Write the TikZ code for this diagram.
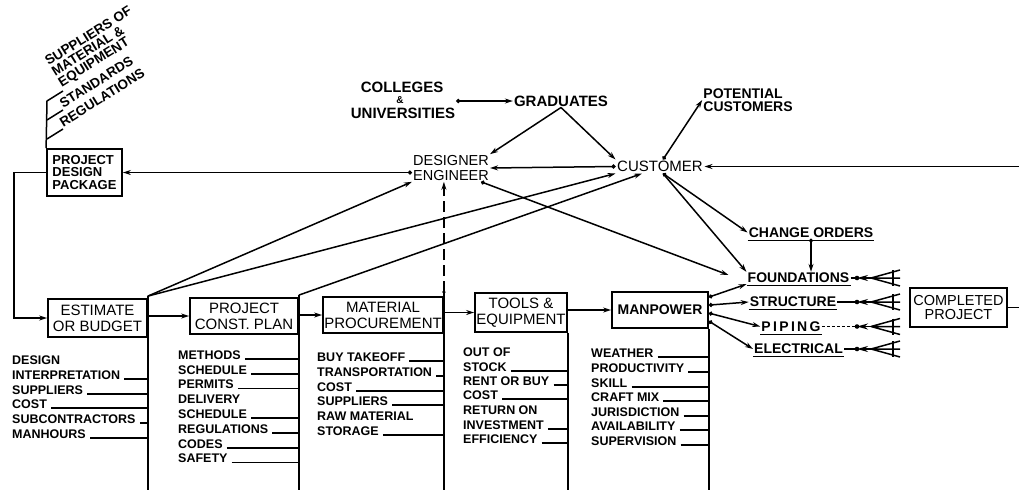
\documentclass[tikz,border=0pt]{standalone}
\usepackage{fontspec}
\setmainfont{Liberation Sans}
\usetikzlibrary{arrows.meta}
\newcommand\fntBoxes{\fontsize{15}{16}\selectfont}
\newcommand\fntLists{\fontsize{12.5}{14}\selectfont\bfseries}
\newcommand\fntHeads{\fontsize{15}{15}\selectfont\bfseries}
\newcommand\fntTags{\fontsize{14}{14}\selectfont\bfseries}
\begin{document}
\begin{tikzpicture}[x=1pt,y=-1pt,
  ln/.style={line width=1.5pt},
  arr/.style={ln,-{Stealth[length=8pt,width=5pt]}},
  darr/.style={ln,{Circle[length=4pt]}-{Stealth[length=8pt,width=5pt]}},
  blk/.style={draw,line width=1.8pt,inner sep=0pt,align=center,font=\fntBoxes},
  lst/.style={inner sep=0pt,anchor=base west,font=\fntLists},
  hd/.style={inner sep=1pt,font=\fntHeads},
  tag/.style={inner sep=1pt,font=\fntTags},
  rot/.style={inner sep=1pt,anchor=south west,rotate=32,align=left,
              font=\fontsize{13.5}{12.5}\selectfont\bfseries}]
\useasboundingbox (0,0) rectangle (1019,490);
\coordinate (bot) at (0,490);

% ---------- main chain of boxes ----------
\node[blk,minimum width=75pt,minimum height=47pt,align=left,
      font=\fontsize{13}{12.5}\selectfont\bfseries] (pkg) at (84.5,172.5) {PROJECT\\DESIGN\\PACKAGE};
\node[blk,minimum width=99pt,minimum height=38pt] (est) at (97.5,318) {ESTIMATE\\OR BUDGET};
\node[blk,minimum width=108pt,minimum height=36pt] (pcp) at (244,316) {PROJECT\\CONST. PLAN};
\node[blk,minimum width=120pt,minimum height=36pt] (mat) at (383,315) {MATERIAL\\PROCUREMENT};
\node[blk,minimum width=92pt,minimum height=39pt] (tools) at (521,312.5) {TOOLS \&\\EQUIPMENT};
\node[blk,minimum width=96pt,minimum height=36pt,font=\fontsize{14}{14}\selectfont\bfseries] (man) at (660,310) {MANPOWER};
\node[blk,minimum width=97pt,minimum height=39pt,font=\fontsize{14.5}{14}\selectfont] (comp) at (958.5,307.5) {COMPLETED\\PROJECT};

% ---------- upper labels ----------
\node[hd] (col1) at (402,87.5) {COLLEGES};
\node[hd,font=\fontsize{10}{10}\selectfont\bfseries] (colamp) at (400,100.5) {\&};
\node[hd] (col2) at (403,113.5) {UNIVERSITIES};
\node[hd] (grad) at (561,101) {GRADUATES};
\node[inner sep=1pt,align=center,font=\fontsize{14.5}{15}\selectfont] (des) at (451,168) {DESIGNER\\ENGINEER};
\node[inner sep=1.5pt,font=\fontsize{15}{15}\selectfont] (cust) at (660,166.5) {CUSTOMER};
\node[inner sep=1pt,align=left,font=\fontsize{14}{13}\selectfont\bfseries] (pot) at (748,100) {POTENTIAL\\CUSTOMERS};
\coordinate (feedIn) at (1019,166.5);

% ---------- work items ----------
\node[tag] (chg) at (811,232.5) {CHANGE ORDERS};
\node[tag] (fnd) at (798.5,278) {FOUNDATIONS};
\node[tag] (str) at (793,302) {STRUCTURE};
\node[tag] (pip) at (791,326.5) {P\,I\,P\,I\,N\,G};
\node[tag] (ele) at (798.5,349) {ELECTRICAL};
\foreach \n in {chg,fnd,str,pip,ele}
  \draw[line width=1.2pt] ([yshift=-3pt]\n.base west) -- ([yshift=-3pt]\n.base east);

% ---------- inputs to the design package ----------
\coordinate (sp1) at (47,101);
\coordinate (sp2) at (47,120);
\coordinate (sp3) at (47,139);
\coordinate (e1) at ([shift={(16,-10)}]sp1);
\coordinate (e2) at ([shift={(16,-10)}]sp2);
\coordinate (e3) at ([shift={(16,-10)}]sp3);
\draw[ln] (pkg.north west) -- (sp1) -- (e1);
\draw[ln] (sp2) -- (e2);
\draw[ln] (sp3) -- (e3);
\node[rot] (sup) at (e1) {SUPPLIERS OF\\MATERIAL \&\\EQUIPMENT};
\node[rot] (std) at (e2) {STANDARDS};
\node[rot] (reg) at (e3) {REGULATIONS};

% ---------- upper connectors ----------
\draw[darr] (col2.east |- grad.west) -- (grad.west);
\draw[arr] (grad.south) -- (des.north east);
\draw[arr] (grad.south) -- (cust.north west);
\draw[darr] (cust.west) -- (des.east);
\draw[arr] (feedIn) -- (cust.east);
\draw[darr] ([xshift=3pt]cust.north) -- (pot.west);
\draw[darr] (des.west |- pkg.east) -- (pkg.east);
\draw[arr] (pkg.west) -- ++(-32,0) |- (est.west);
\draw[darr] ([xshift=-9pt]des.south east) -- ([shift={(-18pt,3pt)}]fnd.west);
\draw[darr] ([xshift=3pt]cust.south) -- (chg.west);
\draw[arr] ([xshift=3pt]cust.south) -- (fnd.north west);
\draw[darr] (chg.south) -- (chg.south |- fnd.north);

% ---------- box spines and feedback lines ----------
\coordinate (estT) at ([yshift=2pt]est.north east);
\coordinate (pcpT) at ([yshift=2pt]pcp.north east);
\coordinate (matT) at ([yshift=4pt]mat.north east);
\draw[ln] (estT) -- (estT |- bot);
\draw[ln] (pcpT) -- (pcpT |- bot);
\draw[ln] (matT) -- (matT |- bot);
\draw[ln] (tools.south east) -- (tools.south east |- bot);
\draw[ln] (man.south east) -- (man.south east |- bot);
\draw[arr] (estT) -- (des.south west);
\draw[arr] (estT) -- (cust.south west);
\draw[arr] (pcpT) -- ([xshift=-18pt]cust.south);
\draw[ln,dash pattern=on 11pt off 5pt,-{Stealth[length=8pt,width=5pt]}] (matT) -- (matT |- des.south);
\fill (matT) circle (1.8pt);

% ---------- chain arrows ----------
\draw[arr] (pcp.west -| est.east) -- (pcp.west);
\draw[arr] (mat.west -| pcp.east) -- (mat.west);
\draw[arr] (tools.west -| mat.east) -- (tools.west);
\draw[arr] (man.west -| tools.east) -- (man.west);
\foreach \k/\t in {6/fnd.south west,14/str.west,22/pip.west,30/ele.west}
  \draw[darr] ([yshift=-\k pt]man.north east) -- (\t);
\draw[ln] (comp.east) -- ++(12,0);

% ---------- fan-in symbols ----------
\coordinate (fanX) at (857,0);
\foreach \n in {fnd,str,pip,ele} {
  \coordinate (\n-dot) at (fanX |- \n.east);
  \coordinate (\n-apex) at ([xshift=14pt]\n-dot);
  \draw[ln,-{Stealth[length=11pt,width=6pt]}] (\n-apex) -- (\n-dot);
  \fill (\n-dot) circle (2.3pt);
  \draw[ln] (\n-apex) -- ++(29,-8) (\n-apex) -- ++(29,0) (\n-apex) -- ++(29,8);
  \draw[ln] ([shift={(22,-8)}]\n-apex) -- ([shift={(22,8)}]\n-apex);
}
\draw[ln] (fnd.east) -- (fnd-dot);
\draw[ln] (str.east) -- (str-dot);
\draw[ln,dash pattern=on 3pt off 2pt] (pip.east) -- (pip-dot);
\draw[ln] (ele.east) -- (ele-dot);

% ---------- factor lists ----------
\foreach \t/\y/\u [count=\i] in {DESIGN/364/0,INTERPRETATION/379/1,SUPPLIERS/394/1,
    COST/408/1,SUBCONTRACTORS/423/1,MANHOURS/438/1} {
  \node[lst] (ea\i) at (12,\y) {\t};
  \ifnum\u=1 \draw[ln] ([xshift=4pt]ea\i.base east) -- (ea\i.base -| estT);\fi
}
\foreach \t/\y/\u [count=\i] in {METHODS/359/1,SCHEDULE/374/1,PERMITS/388.5/1,DELIVERY/403/0,
    SCHEDULE/418/1,REGULATIONS/433/1,CODES/448/1,SAFETY/462.5/1} {
  \node[lst] (pa\i) at (178,\y) {\t};
  \ifnum\u=1 \draw[ln] ([xshift=4pt]pa\i.base east) -- (pa\i.base -| pcpT);\fi
}
\foreach \t/\y/\u [count=\i] in {BUY TAKEOFF/361/1,TRANSPORTATION/376/1,COST/391/1,
    SUPPLIERS/405/1,RAW MATERIAL/420/0,STORAGE/435/1} {
  \node[lst] (ma\i) at (317,\y) {\t};
  \ifnum\u=1 \draw[ln] ([xshift=4pt]ma\i.base east) -- (ma\i.base -| matT);\fi
}
\foreach \t/\y/\u [count=\i] in {OUT OF/356/0,STOCK/371/1,RENT OR BUY/385/1,COST/399/1,
    RETURN ON/414/0,INVESTMENT/429/1,EFFICIENCY/443/1} {
  \node[lst] (ta\i) at (463,\y) {\t};
  \ifnum\u=1 \draw[ln] ([xshift=4pt]ta\i.base east) -- (ta\i.base -| tools.east);\fi
}
\foreach \t/\y [count=\i] in {WEATHER/357,PRODUCTIVITY/372,SKILL/387,CRAFT MIX/401,
    JURISDICTION/416,AVAILABILITY/430,SUPERVISION/445} {
  \node[lst] (mp\i) at (591,\y) {\t};
  \draw[ln] ([xshift=4pt]mp\i.base east) -- (mp\i.base -| man.east);
}
\end{tikzpicture}
\end{document}
